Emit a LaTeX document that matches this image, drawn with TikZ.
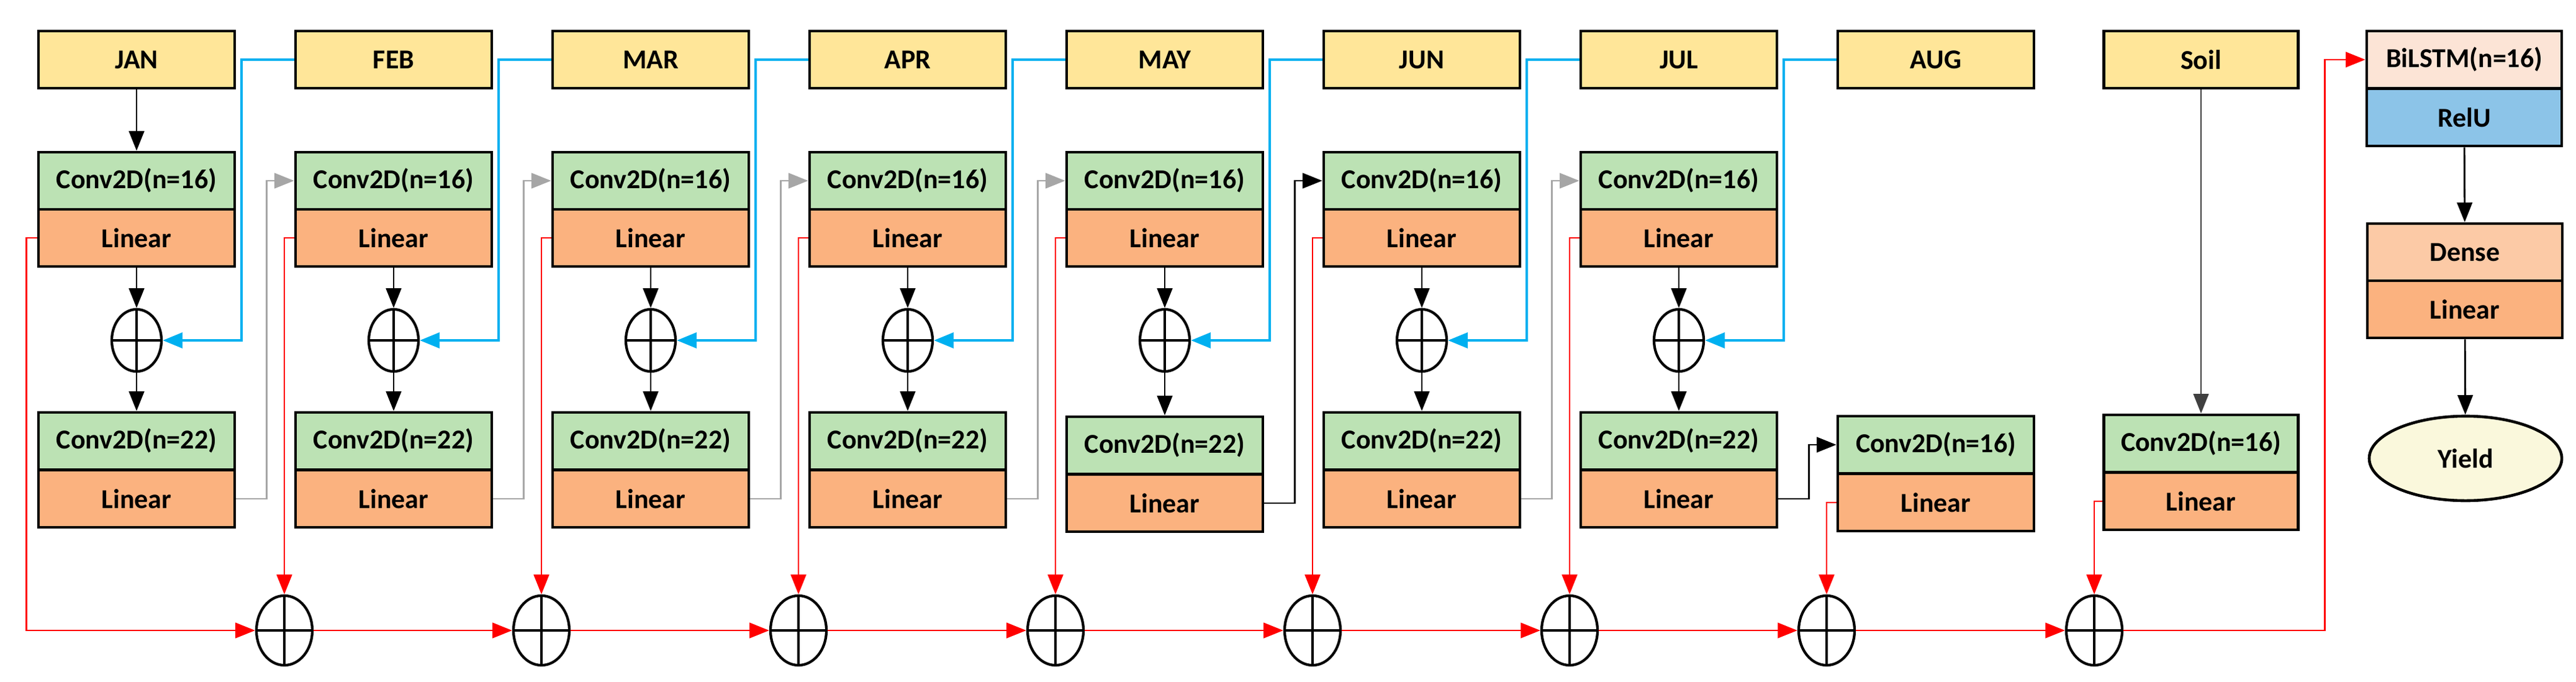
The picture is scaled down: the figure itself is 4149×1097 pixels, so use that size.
\documentclass[tikz,border=0pt]{standalone}
\usepackage{fontspec}
\setmainfont{Carlito}
\usetikzlibrary{arrows.meta,shapes.geometric}
\definecolor{cyel}{HTML}{FFE699}
\definecolor{cgr}{HTML}{BCE2B4}
\definecolor{cor}{HTML}{FBB27F}
\definecolor{cbil}{HTML}{FCE4D6}
\definecolor{crelu}{HTML}{8CC4E8}
\definecolor{cdense}{HTML}{FCCAA6}
\definecolor{cyield}{HTML}{FAF8DC}
\definecolor{cblue}{HTML}{00B0F0}
\definecolor{cred}{HTML}{FF0000}
\begin{document}
\begin{tikzpicture}[x=0.01cm,y=-0.01cm,
 blk/.style={draw,line width=1.3pt,minimum width=3.16cm,minimum height=0.92cm,inner sep=0,font=\fontsize{12.5}{14}\selectfont\bfseries},
 mon/.style={blk,fill=cyel}, cv/.style={blk,fill=cgr}, ln/.style={blk,fill=cor},
 plus/.style={ellipse,draw,line width=1.2pt,minimum width=0.8cm,minimum height=1cm,inner sep=0,
   path picture={\draw[line width=1.2pt] (path picture bounding box.north)--(path picture bounding box.south) (path picture bounding box.west)--(path picture bounding box.east);}},
 sum/.style={plus,minimum width=0.9cm,minimum height=1.12cm},
 ar/.style={-{Triangle[length=9pt,width=7pt]},line width=0.8pt},
 rd/.style={ar,cred},
 bl/.style={ar,cblue,line width=1.2pt},
 gr/.style={ar,gray!70},
]
\useasboundingbox (0,0) rectangle (4149,1097);
\foreach \i/\n in {0/JAN,1/FEB,2/MAR,3/APR,4/MAY,5/JUN,6/JUL,7/AUG}{
  \pgfmathsetmacro\cx{220+414*\i}
  \node[mon] (m\i) at (\cx,96) {\n};
}
\foreach \i in {0,...,6}{
  \pgfmathsetmacro\cx{220+414*\i}
  \pgfmathsetmacro\dy{\i==4?7:0}
  \node[cv] (a\i) at (\cx,291) {Conv2D(n=16)};
  \node[ln] (b\i) at (\cx,383) {Linear};
  \node[plus] (p\i) at (\cx,548) {};
  \node[cv] (c\i) at (\cx,710+\dy) {Conv2D(n=22)};
  \node[ln] (d\i) at (\cx,803+\dy) {Linear};
  \draw[ar] (b\i) -- (p\i);
  \draw[ar] (p\i) -- (c\i);
}
\node[cv] (a7) at (3118,716) {Conv2D(n=16)};
\node[ln] (b7) at (3118,809) {Linear};
\foreach \i in {1,...,7}{
  \pgfmathsetmacro\sx{62+414*\i-18}
  \node[sum] (s\i) at (\sx,1015) {};
}
\node[sum] (s8) at (3373,1015) {};
% soil
\node[mon,minimum width=3.13cm] (soil) at (3545,96) {Soil};
\node[cv,minimum width=3.13cm] (sa) at (3545,714) {Conv2D(n=16)};
\node[ln,minimum width=3.13cm] (sb) at (3545,807) {Linear};
\draw[ar,black!75] (soil) -- (sa);
% right column
\node[blk,fill=cbil,minimum width=3.14cm] (bil) at (3969,96) {BiLSTM(n=16)};
\node[blk,fill=crelu,minimum width=3.14cm] (relu) at (3969,189) {RelU};
\node[blk,fill=cdense,minimum width=3.14cm] (dense) at (3970,406) {Dense};
\node[ln,minimum width=3.14cm] (dlin) at (3970,498) {Linear};
\node[ellipse,draw,line width=1.3pt,fill=cyield,minimum width=3.1cm,minimum height=1.36cm,font=\fontsize{12.5}{14}\selectfont\bfseries] (yield) at (3971,738) {Yield};
\draw[ar] (relu) -- (dense);
\draw[ar] (dlin) -- (yield);
% connectors
\draw[ar] (m0) -- (a0);
\foreach \i/\j in {1/0,2/1,3/2,4/3,5/4,6/5,7/6}{
  \draw[bl] (m\i.west) -- ++(-85,0) |- (p\j.east);
}
\foreach \i/\j in {1/0,2/1,3/2,4/3,6/5}{
  \draw[gr] (d\j.east) -- ++(49,0) |- (a\i.west);
}
\draw[ar] (d4.east) -- ++(49,0) |- (a5.west);
\draw[ar] (d6.east) -- ++(49,0) |- (a7.west);
\draw[rd] (b0.west) -- ++(-17,0) |- (s1.west);
\foreach \i in {1,...,7}{
  \draw[rd] (b\i.west) -| (s\i.north);
}
\draw[rd] (sb.west) -| (s8.north);
\foreach \i/\j in {1/2,2/3,3/4,4/5,5/6,6/7,7/8}{
  \draw[rd] (s\i.east) -- (s\j.west);
}
\draw[rd] (s8.east) -- ++(324,0) |- (bil.west);
\end{tikzpicture}
\end{document}
